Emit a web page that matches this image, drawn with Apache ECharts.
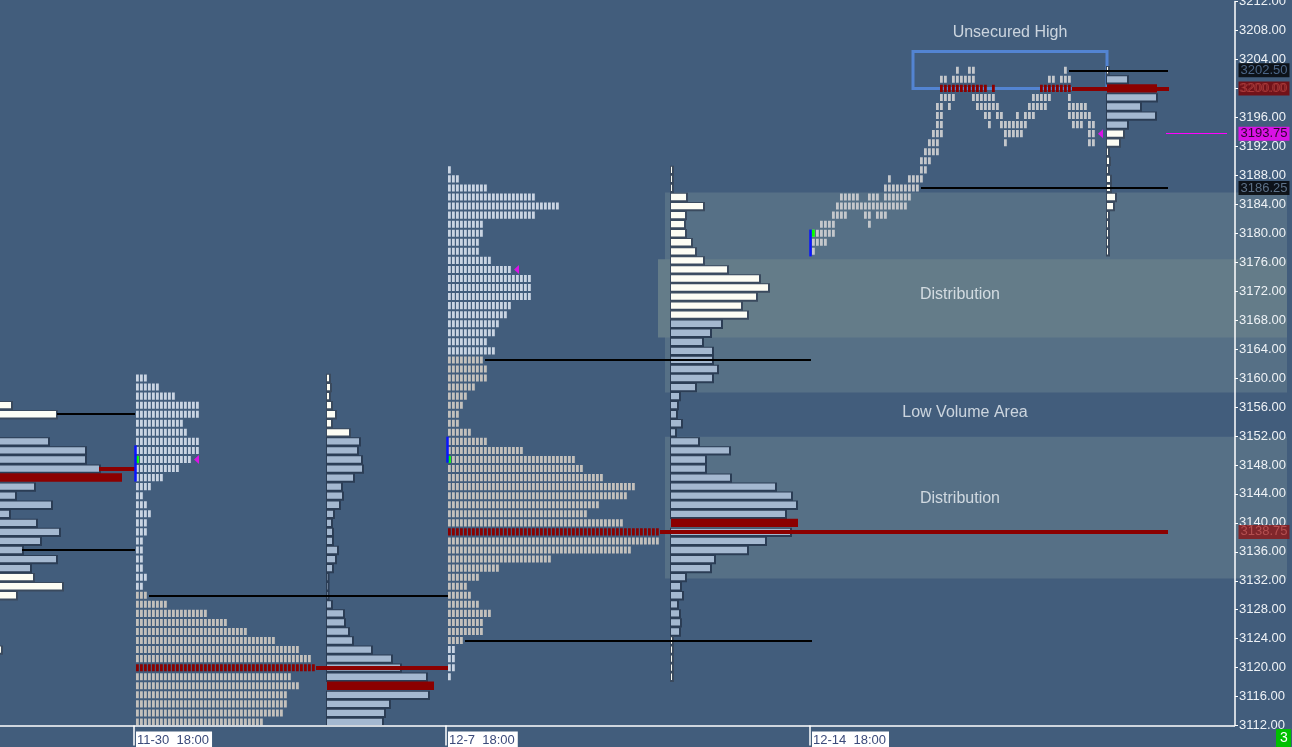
<!DOCTYPE html>
<html><head><meta charset="utf-8">
<script src="https://cdn.jsdelivr.net/npm/echarts@6/dist/echarts.min.js"></script>
<style>html,body{margin:0;padding:0;background:#425d7c;}#c{width:1292px;height:747px;}</style>
</head><body><div id="c"></div>
<script>
// ---------- axis ----------
const yMin = 3112, yMax = 3212, yStep = 4;
const dateTickX = [134, 446, 810];
const dateLabelX = [136, 448, 812];
const dateLabels = ['11-30  18:00', '12-7  18:00', '12-14  18:00'];

// ---------- volume profiles (kind: w=white, b=blue, r=POC) ----------
const volA_x0 = -3;
const volA_prices = [3156.25,3155,3151.25,3150,3148.75,3147.5,3146.25,3145,3143.75,3142.5,3141.25,3140,3138.75,3137.5,3136.25,3135,3133.75,3132.5,3131.25,3130,3122.5];
const volA_len = [14,59,51,88,88,102,125,37,18,54,12,39,62,43,25,59,33,36,65,19,4];
const volA_kind = 'wwbbbbrbbbbbbbbbbwwww';

const volC_x0 = 327;
const volC_prices = [3160,3158.75,3157.5,3156.25,3155,3153.75,3152.5,3151.25,3150,3148.75,3147.5,3146.25,3145,3143.75,3142.5,3141.25,3140,3138.75,3137.5,3136.25,3135,3133.75,3132.5,3131.25,3130,3128.75,3127.5,3126.25,3125,3123.75,3122.5,3121.25,3120,3118.75,3117.5,3116.25,3115,3113.75,3112.5];
const volC_len = [2,3,2,4,8,4,22,32,30,34,35,26,14,15,12,6,4,5,5,10,8,5,0.5,0.5,0.5,4,16,17,21,25,44,64,73,99,107,101,62,57,55];
const volC_kind = 'wwwwwww' + 'bbbbbbbbbbbbbbbbbbbbbbbbbbb' + 'r' + 'bbbb';

const volE_x0 = 671;
const volE_prices = [3188.75,3187.5,3186.25,3185,3183.75,3182.5,3181.25,3180,3178.75,3177.5,3176.25,3175,3173.75,3172.5,3171.25,3170,3168.75,3167.5,3166.25,3165,3163.75,3162.5,3161.25,3160,3158.75,3157.5,3156.25,3155,3153.75,3152.5,3151.25,3150,3148.75,3147.5,3146.25,3145,3143.75,3142.5,3141.25,3140,3138.75,3137.5,3136.25,3135,3133.75,3132.5,3131.25,3130,3128.75,3127.5,3126.25,3125,3123.75,3122.5,3121.25,3120,3118.75];
const volE_len = [1,1,1,15,32,14,13,14,20,24,32,56,88,97,85,70,76,50,39,31,41,41,46,41,24,8,6,5,10,4,27,58,34,34,59,104,120,125,114,127,119,94,76,43,39,14,9,11,6,8,9,8,1,1,1,1,1];
const volE_kind = 'wwwwwwwwwwwwwwwww' + 'bbbbbbbbbbbbbbbbbbbbbb' + 'r' + 'bbbbbbbbbbbb' + 'wwwww';

const volG_x0 = 1107;
const volG_prices = [3202.5,3201.25,3200,3198.75,3197.5,3196.25,3195,3193.75,3192.5,3191.25,3190,3188.75,3187.5,3186.25,3185,3183.75,3182.5,3181.25,3180,3178.75,3177.5];
const volG_len = [1,20,50,49,33,48,20,16,12,1,2,1,3,3,8,6,1,1,1,1,1];
const volG_kind = 'wbrbbbb' + 'wwwwwwwwwwwwww';

// ---------- TPO profiles (kind: l=light, g=gray, r=POC) ----------
const tpoPitch = 4;
const tpoB_x0 = 136;
const tpoB_prices = [3160,3158.75,3157.5,3156.25,3155,3153.75,3152.5,3151.25,3150,3148.75,3147.5,3146.25,3145,3143.75,3142.5,3141.25,3140,3138.75,3137.5,3136.25,3135,3133.75,3132.5,3131.25,3130,3128.75,3127.5,3126.25,3125,3123.75,3122.5,3121.25,3120,3118.75,3117.5,3116.25,3115,3113.75,3112.5];
const tpoB_count = [3,6,10,16,16,12,13,16,16,14,11,7,4,2,3,4,3,3,2,2,2,2,3,2,3,8,18,23,28,35,41,44,45,39,41,38,38,37,32];
const tpoB_kind = 'llllllllllllllllllllllll' + 'gggggggg' + 'r' + 'gggggg';

const tpoD_x0 = 448;
const tpoD_prices = [3188.75,3187.5,3186.25,3185,3183.75,3182.5,3181.25,3180,3178.75,3177.5,3176.25,3175,3173.75,3172.5,3171.25,3170,3168.75,3167.5,3166.25,3165,3163.75,3162.5,3161.25,3160,3158.75,3157.5,3156.25,3155,3153.75,3152.5,3151.25,3150,3148.75,3147.5,3146.25,3145,3143.75,3142.5,3141.25,3140,3138.75,3137.5,3136.25,3135,3133.75,3132.5,3131.25,3130,3128.75,3127.5,3126.25,3125,3123.75,3122.5,3121.25,3120,3118.75];
const tpoD_count = [1,3,10,22,28,22,9,9,8,8,11,16,21,21,21,16,15,13,12,10,12,9,10,10,7,5,4,3,3,6,10,19,32,34,39,47,45,38,35,44,53,53,46,26,13,8,5,6,8,11,9,9,4,2,2,2,1];
const tpoD_kind = 'lllllllllllllllllllll' + 'ggggggggggggggggggg' + 'r' + 'gggggggggggg' + 'llll';

// split (time-placed) TPO: runs of period columns per price
const tpoF_x0 = 812;
const tpoF_prices = [3202.5,3201.25,3200,3198.75,3197.5,3196.25,3195,3193.75,3192.5,3191.25,3190,3188.75,3187.5,3186.25,3185,3183.75,3182.5,3181.25,3180,3178.75,3177.5];
const tpoF_runs = [
  [[36,36],[39,40],[63,63]],
  [[32,33],[35,40],[59,60],[62,64]],
  [[32,43],[45,45],[57,64]],
  [[32,35],[40,45],[55,59],[64,64]],
  [[31,32],[34,34],[41,46],[54,58],[64,68]],
  [[31,32],[43,44],[46,47],[51,51],[53,55],[64,69]],
  [[31,32],[44,44],[47,53],[65,67],[69,70]],
  [[30,32],[48,52],[69,70]],
  [[29,31],[48,48],[69,70]],
  [[28,31]],
  [[27,29]],
  [[27,28]],
  [[19,19],[24,27]],
  [[18,26]],
  [[7,11],[14,16],[18,24]],
  [[6,23]],
  [[5,8],[13,14],[16,18]],
  [[2,5],[14,14]],
  [[0,5]],
  [[0,3]],
  [[0,0]]
];
const tpoF_kind = 'ffrffffffffffffffffff';

// open markers
const greenBoxes = [[136,3148.75],[448,3148.75],[812,3180]];
const openBars = [[135,3150.7,3145.7],[447,3151.9,3148.3],[810.5,3180.5,3176.8]];
const magentaMarks = [[196.5,3148.75],[516.5,3175],[1100.5,3193.75]];

// reference lines [price, x1, x2]
const blackLines = [[3155,57,135],[3136.25,22,135],[3130,149,448],[3162.5,485,811],[3123.75,465,812],[3186.25,921,1168],[3202.5,1069,1168]];
const redLines = [[3147.5,99,135],[3120,316,448],[3138.75,660,1168],[3200,1072,1169]];
const magentaLines = [[3193.75,1166,1227]];

// zones [x1, x2, pTop, pBottom]
const zoneAreas = [[665,1287,3185.625,3158],[665,1287,3151.9,3132.3]];
const distBand = [658,1287,3176.4,3165.6];
const unsecuredBox = [913,1107,3205.1,3200.0];

// text notes
const notes = [['Unsecured High',1010,3207.7],['Distribution',960,3171.5],['Low Volume Area',965,3155.2],['Distribution',960,3143.4]];

// price tags
const tagPrices = [3202.5, 3200, 3193.75, 3186.25, 3138.75];
const tagBg = ['#000000','#7d0000','#ff00ff','#000000','#8b1414'];
const tagFg = ['#5b7ba2','#b23c3c','#000000','#7088a2','#c05a5a'];

// ---------- build ----------
const TPO_COL = {l:'#c9d4e2', g:'#c3c0bc', r:'#8b0000', f:'#c4c7cb'};
function volItems(x0, prices, lens, kinds){ return prices.map((p,i)=>[x0, p, lens[i], 'wbr'.indexOf(kinds[i])]); }
function tpoItems(x0, prices, counts, kinds){
  const out=[]; prices.forEach((p,i)=>{ for(let k=0;k<counts[i];k++) out.push([x0+k*tpoPitch, p, 'lgrf'.indexOf(kinds[i])]); }); return out;
}
function tpoRunItems(x0, prices, runs, kinds){
  const out=[]; prices.forEach((p,i)=>{ runs[i].forEach(r=>{ for(let c=r[0];c<=r[1];c++) out.push([x0+c*tpoPitch, p, 'lgrf'.indexOf(kinds[i])]); }); }); return out;
}
const volData = [].concat(
  volItems(volA_x0, volA_prices, volA_len, volA_kind),
  volItems(volC_x0, volC_prices, volC_len, volC_kind),
  volItems(volE_x0, volE_prices, volE_len, volE_kind),
  volItems(volG_x0, volG_prices, volG_len, volG_kind));
const tpoData = [].concat(
  tpoItems(tpoB_x0, tpoB_prices, tpoB_count, tpoB_kind),
  tpoItems(tpoD_x0, tpoD_prices, tpoD_count, tpoD_kind),
  tpoRunItems(tpoF_x0, tpoF_prices, tpoF_runs, tpoF_kind));
const TPO_LIST = [TPO_COL.l, TPO_COL.g, TPO_COL.r, TPO_COL.f];

function renderTpo(params, api){
  const c = api.coord([api.value(0), api.value(1)]);
  const rh = api.size([0,1.25])[1];
  const w = api.size([tpoPitch,0])[0]*0.7;
  const h = rh*0.78;
  return {type:'rect', shape:{x:c[0], y:c[1]-h/2, width:w, height:h}, style:{fill: TPO_LIST[api.value(2)]}};
}
function renderGreen(params, api){
  const c = api.coord([api.value(0), api.value(1)]);
  const rh = api.size([0,1.25])[1];
  const w = api.size([tpoPitch,0])[0]*0.7;
  const h = rh*0.78;
  return {type:'rect', shape:{x:c[0], y:c[1]-h/2, width:w, height:h}, style:{fill:'#00ff00'}};
}
function renderVol(params, api){
  const a = api.coord([api.value(0), api.value(1)]);
  const b = api.coord([api.value(0)+api.value(2), api.value(1)]);
  const k = api.value(3);
  const rh = api.size([0,1.25])[1];
  const w = Math.max(b[0]-a[0], 0.5);
  if (k === 2) return {type:'rect', shape:{x:a[0], y:a[1]-rh/2+0.3, width:w, height:rh-0.6}, style:{fill:'#8b0000'}};
  const h = rh*0.7;
  return {type:'group', children:[
    {type:'rect', shape:{x:a[0]-1, y:a[1]-h/2-1, width:w+3, height:h+3}, style:{fill: k===0 ? '#3a4a5e' : '#2b3d55'}},
    {type:'rect', shape:{x:a[0], y:a[1]-h/2, width:w, height:h}, style:{fill: k===0 ? '#fdfdf4' : '#a4b8d0'}}
  ]};
}

function seg(list, color, width){
  return list.map(l=>[{coord:[l[1], l[0]], lineStyle:{color, width, type:'solid'}}, {coord:[l[2], l[0]]}]);
}

const chart = echarts.init(document.getElementById('c'));
chart.setOption({
  animation:false,
  backgroundColor:'#425d7c',
  grid:{left:0, right:0, top:1.5, bottom:21.4, containLabel:false, outerBoundsMode:'none'},
  xAxis:{type:'value', min:0, max:1292, splitLine:{show:false}, axisLine:{show:false, onZero:false},
    axisTick:{show:true, customValues:dateTickX, length:20, lineStyle:{color:'#ffffff', width:1.5}},
    axisLabel:{show:true, customValues:dateLabelX, align:'left', margin:6,
      formatter:v=>{const i=dateLabelX.indexOf(v); return i>=0?dateLabels[i]:'';},
      color:'#3b4a7a', backgroundColor:'#ffffff', padding:[2,3,3,1], fontSize:13, fontFamily:'Liberation Sans, Arial'}},
  yAxis:{type:'value', min:yMin, max:yMax, interval:yStep, position:'right', offset:-57, z:10,
    axisLine:{show:true, onZero:false, lineStyle:{color:'#ffffff', width:1.5}},
    axisTick:{show:true, length:3, lineStyle:{color:'#ffffff'}},
    axisLabel:{color:'#eef2f6', fontSize:13, fontFamily:'Liberation Sans, Arial', margin:4, formatter:v=>v.toFixed(2)},
    splitLine:{show:false}},
  graphic:[{type:'group', right:1, bottom:0, children:[
    {type:'rect', shape:{x:0,y:0,width:15,height:18}, style:{fill:'#00c000'}},
    {type:'text', x:4, y:2, style:{text:'3', fill:'#ffffff', font:'14px Liberation Sans'}}]}],
  series:[
    {type:'line', data:[], z:1, silent:true,
      markArea:{silent:true, data:[
        ...zoneAreas.map(z=>[{coord:[z[0],z[2]], itemStyle:{color:'#567086'}},{coord:[z[1],z[3]]}]),
        [{coord:[distBand[0],distBand[2]], itemStyle:{color:'#647c89'}},{coord:[distBand[1],distBand[3]]}]
      ]}},
    {type:'line', data:[], z:2, silent:true,
      markLine:{silent:true, symbol:'none', label:{show:false}, data:[
        ...seg(blackLines,'#000000',2), ...seg(redLines,'#8b0000',4), ...seg(magentaLines,'#ff00ff',1),
        [{coord:[0,yMin], lineStyle:{color:'#ffffff', width:1.5, type:'solid'}},{coord:[1235,yMin]}],
        ...openBars.map(o=>[{coord:[o[0],o[1]], lineStyle:{color:'#0a14ff', width:2.5, type:'solid'}},{coord:[o[0],o[2]]}])
      ]}},
    {type:'custom', z:3, silent:true, clip:true, renderItem:renderVol, encode:{x:0,y:1}, data:volData},
    {type:'custom', z:3, silent:true, clip:true, renderItem:renderTpo, encode:{x:0,y:1}, data:tpoData},
    {type:'custom', z:4, silent:true, renderItem:renderGreen, encode:{x:0,y:1}, data:greenBoxes},
    {type:'scatter', z:4, silent:true, symbol:'triangle', symbolRotate:90, symbolSize:[9,5], itemStyle:{color:'#ff00ff'}, data:magentaMarks},
    {type:'line', data:[], z:4, silent:true,
      markArea:{silent:true, data:[[{coord:[unsecuredBox[0],unsecuredBox[2]], itemStyle:{color:'rgba(0,0,0,0)', borderColor:'#5384d2', borderWidth:3}},{coord:[unsecuredBox[1],unsecuredBox[3]]}]]}},
    {type:'scatter', z:5, silent:true, symbolSize:1, itemStyle:{color:'rgba(0,0,0,0)'},
      label:{show:true, position:'inside', color:'#eef2f6', fontSize:16, fontFamily:'Liberation Sans, Arial', formatter:p=>p.name},
      data:notes.map(n=>({name:n[0], value:[n[1], n[2]]}))},
    {type:'scatter', z:20, silent:true, symbolSize:1, itemStyle:{color:'rgba(0,0,0,0)'},
      data:tagPrices.map((p,i)=>({value:[1236,p], label:{show:true, position:'right', distance:2, formatter:p.toFixed(2),
        color:tagFg[i], backgroundColor:tagBg[i], padding:[1,2,0,2], fontSize:13, fontFamily:'Liberation Sans, Arial'}}))}
  ]
});
</script></body></html>
